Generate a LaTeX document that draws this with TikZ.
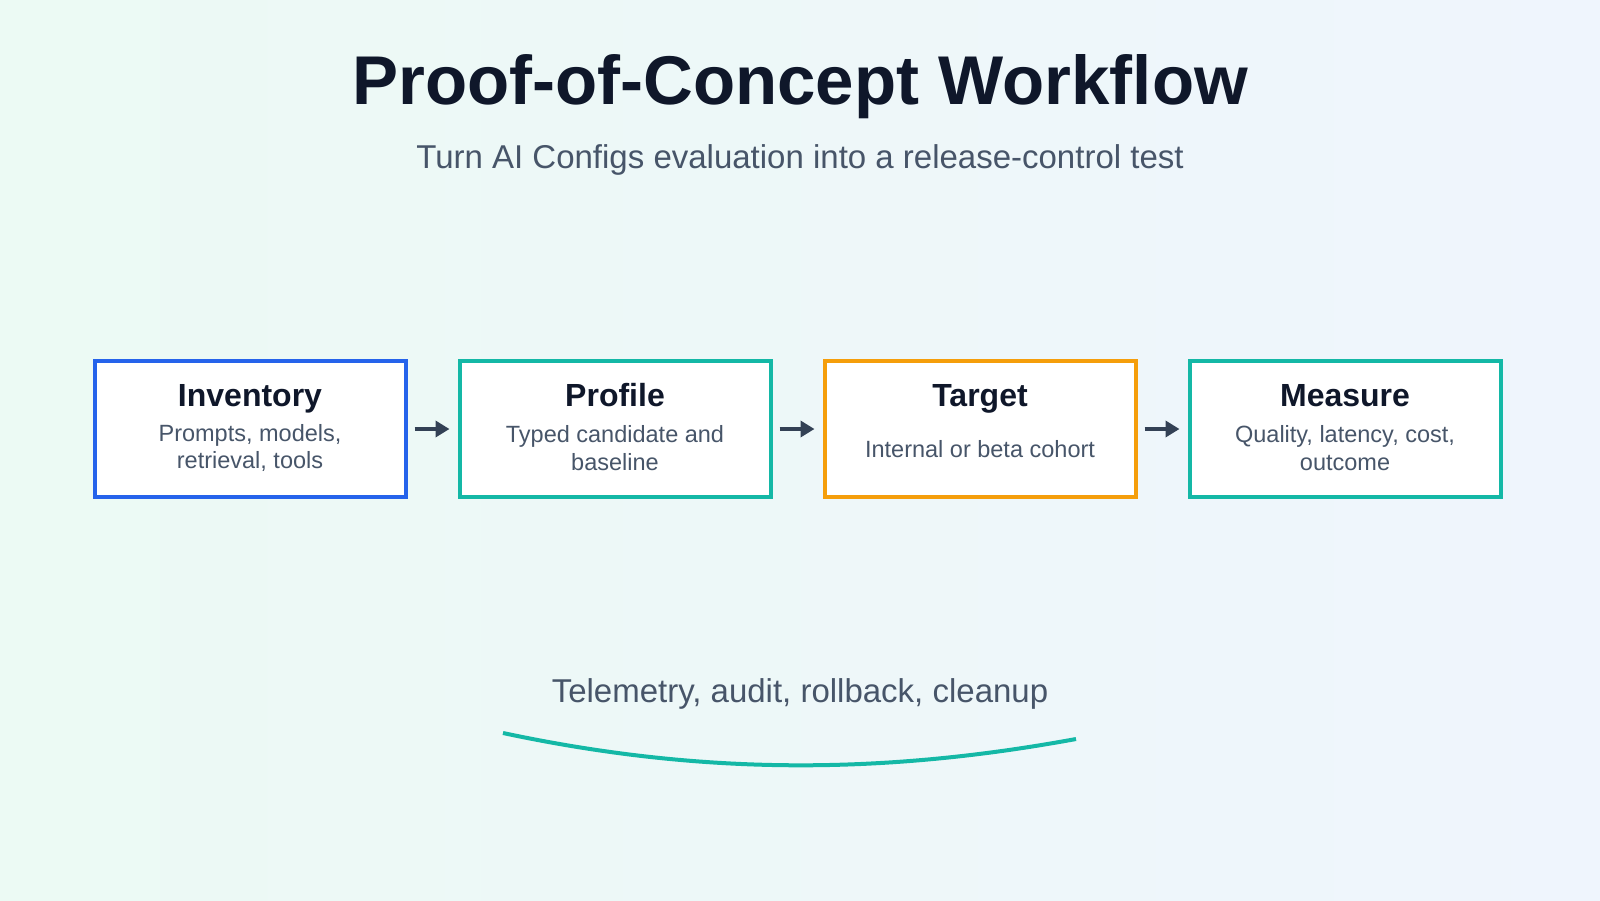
\documentclass[tikz,border=0pt]{standalone}
\usepackage{fontspec}
\setmainfont{Liberation Sans}
\usetikzlibrary{positioning,arrows.meta}
\definecolor{bgleft}{HTML}{ECFAF4}
\definecolor{bgright}{HTML}{EFF5FD}
\definecolor{ink}{HTML}{0F172A}
\definecolor{muted}{HTML}{475569}
\definecolor{arrowc}{HTML}{334155}
\definecolor{blue}{HTML}{2563EB}
\definecolor{teal}{HTML}{14B8A6}
\definecolor{amber}{HTML}{F59E0B}
\tikzset{
  step/.style={draw=#1, line width=4pt, fill=white, minimum width=311pt, minimum height=136pt, inner sep=0pt},
  head/.style={text=ink, anchor=base, font=\fontsize{32}{36}\selectfont\bfseries},
  body/.style={text=muted, font=\fontsize{23.5}{27.5}\selectfont, align=center},
  flow/.style={draw=arrowc, line width=3.5pt, -{Triangle[length=14pt,width=16pt]}, shorten <=7pt, shorten >=8pt},
}
\begin{document}
\begin{tikzpicture}[x=1pt,y=-1pt]
  \shade[left color=bgleft, right color=bgright] (0,0) rectangle (1600,900);
  \useasboundingbox (0,0) rectangle (1600,900);

  \node[text=ink, font=\fontsize{69}{74}\selectfont\bfseries] (title) at (800,87) {Proof-of-Concept Workflow};
  \node[text=muted, font=\fontsize{33}{38}\selectfont] (sub) at (800,160) {Turn AI Configs evaluation into a release-control test};

  % workflow steps
  \node[step=blue] (inv) at (250,429) {};
  \node[step=teal, right=50pt of inv] (prof) {};
  \node[step=amber, right=50pt of prof] (targ) {};
  \node[step=teal, right=50pt of targ] (meas) {};

  \node[head] at ([yshift=23pt]inv.center) {Inventory};
  \node[body] at ([yshift=-19pt]inv.center) {Prompts, models,\\retrieval, tools};
  \node[head] at ([yshift=23pt]prof.center) {Profile};
  \node[body] at ([yshift=-19pt]prof.center) {Typed candidate and\\baseline};
  \node[head] at ([yshift=23pt]targ.center) {Target};
  \node[body] at ([yshift=-20pt]targ.center) {Internal or beta cohort};
  \node[head] at ([yshift=23pt]meas.center) {Measure};
  \node[body] at ([yshift=-19pt]meas.center) {Quality, latency, cost,\\outcome};

  \draw[flow] (inv) -- (prof);
  \draw[flow] (prof) -- (targ);
  \draw[flow] (targ) -- (meas);

  % feedback loop
  \node[text=muted, font=\fontsize{33}{38}\selectfont] (loop) at (800,694) {Telemetry, audit, rollback, cleanup};
  \coordinate (la) at (503,733);
  \coordinate (lb) at (1076,739);
  \draw[teal, line width=4pt] (la) .. controls (700,775) and (880,775) .. (lb);
\end{tikzpicture}
\end{document}
